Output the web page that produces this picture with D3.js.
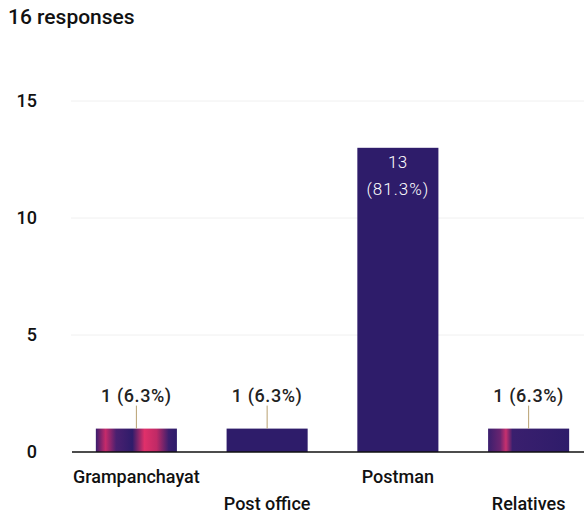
<!DOCTYPE html>
<html><head><meta charset="utf-8">
<script src="https://cdn.jsdelivr.net/npm/d3@7"></script>
<style>body{margin:0;background:#fff;} svg{display:block;font-family:Roboto,"Noto Sans",sans-serif;}</style>
</head><body>
<script>
const categories = ["Grampanchayat", "Post office", "Postman", "Relatives"];
const counts = [1, 1, 13, 1];
const percents = ["6.3%", "6.3%", "81.3%", "6.3%"];
const yTicks = [0, 5, 10, 15];
const title = "16 responses";

const W = 584, H = 519;
const svg = d3.select("body").append("svg").attr("width", W).attr("height", H);

const x = d3.scaleBand().domain(categories).range([71, 594]).paddingInner(0.38).paddingOuter(0.19);
const y = d3.scaleLinear().domain([0, 15]).range([452, 101]);

const defs = svg.append("defs");
const g1 = defs.append("linearGradient").attr("id", "g1");
[[0,"#3a1d6e"],[0.12,"#c62a6a"],[0.25,"#4a2070"],[0.45,"#2e1c6a"],[0.6,"#e0306a"],[0.75,"#c02a66"],[0.9,"#3a1f6e"],[1,"#2e1c6a"]]
  .forEach(([o,c]) => g1.append("stop").attr("offset", o).attr("stop-color", c));
const g2 = defs.append("linearGradient").attr("id", "g2");
[[0,"#3a1f6e"],[0.15,"#6a2470"],[0.22,"#c8306e"],[0.3,"#3a1f6e"],[1,"#2e1c6a"]]
  .forEach(([o,c]) => g2.append("stop").attr("offset", o).attr("stop-color", c));
const fills = ["url(#g1)", "#2e1c6a", "#2e1c6a", "url(#g2)"];

svg.append("text").attr("x", 8).attr("y", 24).attr("font-size", 21).attr("font-weight", 500)
  .attr("fill", "#111").text(title);

// gridlines
svg.append("g").selectAll("line").data(yTicks.filter(d => d > 0)).join("line")
  .attr("x1", 71).attr("x2", W).attr("y1", d => y(d)).attr("y2", d => y(d))
  .attr("stroke", "#f0f0f0").attr("stroke-width", 1);

// y axis labels
const yAxis = svg.append("g").attr("transform", "translate(39,0)")
  .call(d3.axisLeft(y).tickValues(yTicks).tickSize(0).tickPadding(2));
yAxis.select(".domain").remove();
yAxis.selectAll("text").attr("font-size", 18).attr("font-weight", 500).attr("fill", "#111")
  .attr("font-family", "Roboto, sans-serif");

// bars
svg.append("g").selectAll("rect").data(categories).join("rect")
  .attr("x", d => x(d)).attr("width", x.bandwidth())
  .attr("y", (d, i) => y(counts[i])).attr("height", (d, i) => y(0) - y(counts[i]))
  .attr("fill", (d, i) => fills[i]);

// baseline
svg.append("line").attr("x1", 72).attr("x2", W).attr("y1", y(0)).attr("y2", y(0))
  .attr("stroke", "#111").attr("stroke-width", 1.5);

// labels
categories.forEach((c, i) => {
  const cx = x(c) + x.bandwidth() / 2;
  if (counts[i] > 3) {
    svg.append("text").attr("x", cx).attr("y", y(counts[i]) + 20).attr("text-anchor", "middle")
      .attr("font-size", 17).attr("font-weight", 300).attr("letter-spacing", 0.5).attr("fill", "#fff").text(counts[i]);
    svg.append("text").attr("x", cx).attr("y", y(counts[i]) + 47).attr("text-anchor", "middle")
      .attr("font-size", 17).attr("font-weight", 300).attr("letter-spacing", 1).attr("fill", "#fff").text("(" + percents[i] + ")");
  } else {
    svg.append("line").attr("x1", cx).attr("x2", cx).attr("y1", y(counts[i]) - 23).attr("y2", y(counts[i]))
      .attr("stroke", "#b8a070").attr("stroke-width", 1);
    svg.append("text").attr("x", cx).attr("y", y(counts[i]) - 27).attr("text-anchor", "middle")
      .attr("font-size", 18).attr("font-weight", 500).attr("letter-spacing", 0.6).attr("fill", "#222").text(counts[i] + " (" + percents[i] + ")");
  }
  svg.append("text").attr("x", cx).attr("y", i % 2 === 0 ? 483 : 510).attr("text-anchor", "middle")
    .attr("font-size", 18).attr("font-weight", 500).attr("fill", "#111").text(c);
});
</script>
</body></html>
